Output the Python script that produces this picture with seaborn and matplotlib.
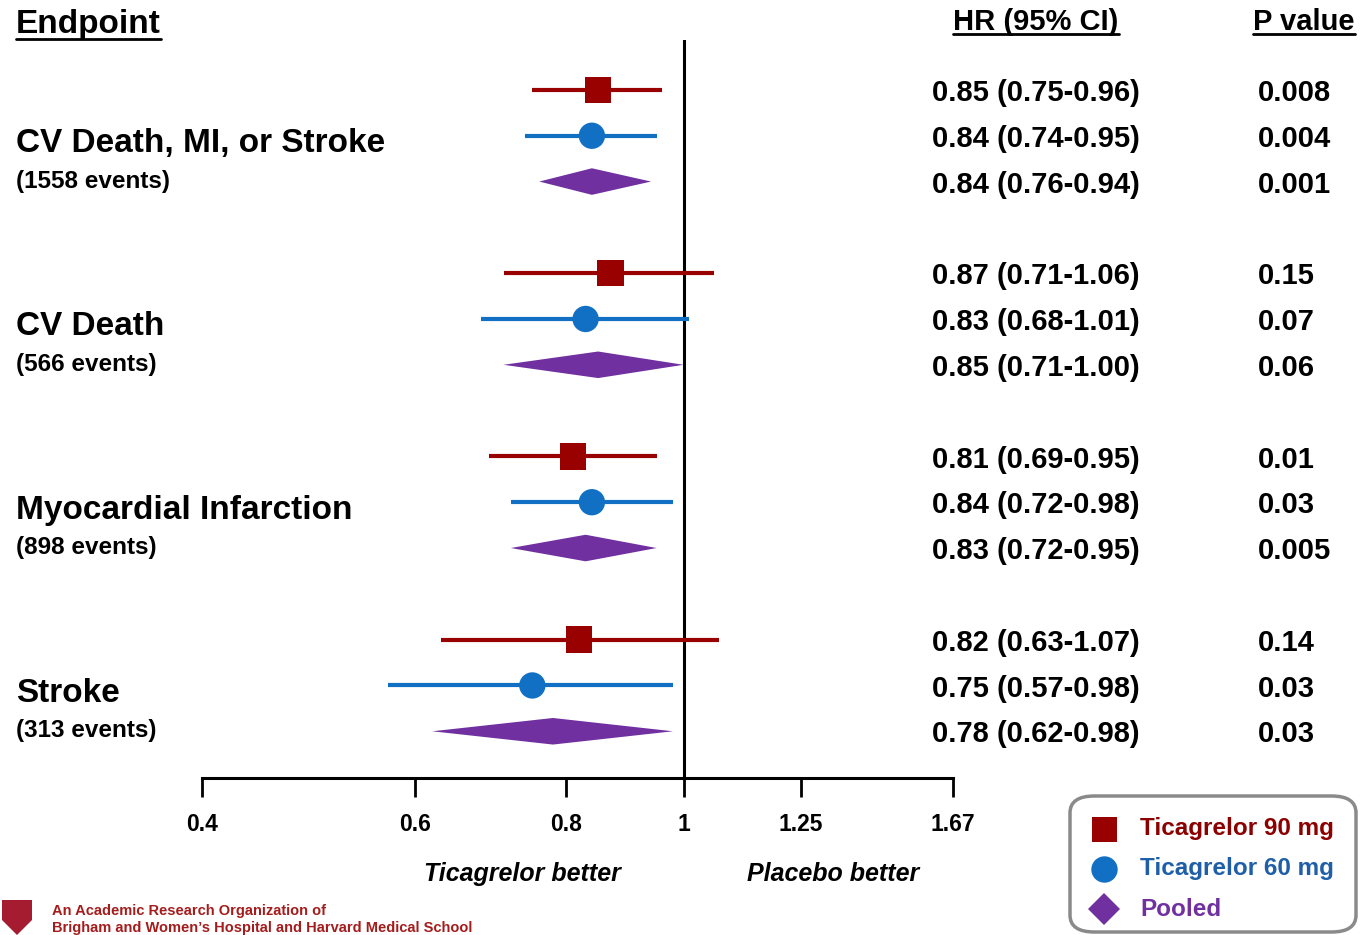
import numpy as np
import pandas as pd
import matplotlib
matplotlib.use("Agg")
import matplotlib.pyplot as plt
import matplotlib.transforms as mtransforms
from matplotlib.patches import FancyBboxPatch, Polygon
from matplotlib.lines import Line2D
from matplotlib.ticker import NullLocator
import seaborn as sns

# =========================
# Data
# =========================
endpoints = ["CV Death, MI, or Stroke", "CV Death", "Myocardial Infarction", "Stroke"]
events = ["(1558 events)", "(566 events)", "(898 events)", "(313 events)"]

arms = ["Ticagrelor 90 mg", "Ticagrelor 60 mg", "Pooled"]

hr_90 = [0.85, 0.87, 0.81, 0.82]
lo_90 = [0.75, 0.71, 0.69, 0.63]
hi_90 = [0.96, 1.06, 0.95, 1.07]
p_90 = ["0.008", "0.15", "0.01", "0.14"]

hr_60 = [0.84, 0.83, 0.84, 0.75]
lo_60 = [0.74, 0.68, 0.72, 0.57]
hi_60 = [0.95, 1.01, 0.98, 0.98]
p_60 = ["0.004", "0.07", "0.03", "0.03"]

hr_pool = [0.84, 0.85, 0.83, 0.78]
lo_pool = [0.76, 0.71, 0.72, 0.62]
hi_pool = [0.94, 1.00, 0.95, 0.98]
p_pool = ["0.001", "0.06", "0.005", "0.03"]

tick_values = [0.4, 0.6, 0.8, 1, 1.25, 1.67]
tick_labels = ["0.4", "0.6", "0.8", "1", "1.25", "1.67"]

colors = {"Ticagrelor 90 mg": "#990000", "Ticagrelor 60 mg": "#1170C4", "Pooled": "#7030A0"}
legend_text_colors = {"Ticagrelor 90 mg": "#8B0000", "Ticagrelor 60 mg": "#1F5FA8", "Pooled": "#7030A0"}

# long table: one row per endpoint x arm
rows = []
series = [(hr_90, lo_90, hi_90, p_90), (hr_60, lo_60, hi_60, p_60), (hr_pool, lo_pool, hi_pool, p_pool)]
for g, name in enumerate(endpoints):
    for k, arm in enumerate(arms):
        hr, lo, hi, p = series[k]
        rows.append({"endpoint": name, "arm": arm, "hr": hr[g], "lo": lo[g], "hi": hi[g],
                     "p": p[g], "y": g * 4 + k})
df = pd.DataFrame(rows)

# =========================
# Figure
# =========================
sns.set_theme(style="white")
plt.rcParams["font.family"] = ["Liberation Sans", "DejaVu Sans"]
plt.rcParams["font.weight"] = "bold"
plt.rcParams["text.color"] = "black"
plt.rcParams["xtick.color"] = "black"

W, H = 1360, 935
fig = plt.figure(figsize=(W / 100, H / 100), dpi=100)
fx = lambda px: px / W
fy = lambda py: 1 - py / H

ax = fig.add_axes([fx(202), fy(778), fx(953) - fx(202), (778 - 40) / H])
ax.set_xscale("log")
ax.set_xlim(0.4, 1.67)
ax.set_ylim(15.02, -1.09)

ax.axvline(1, color="black", lw=2.2, zorder=1)

# CI lines
bars = df[df["arm"] != "Pooled"]
for _, r in bars.iterrows():
    ax.hlines(r["y"], r["lo"], r["hi"], color=colors[r["arm"]], lw=3, zorder=2)

sns.scatterplot(data=bars, x="hr", y="y", hue="arm", style="arm",
                markers={"Ticagrelor 90 mg": "s", "Ticagrelor 60 mg": "o"},
                palette=colors, s=360, linewidth=0, legend=False, zorder=3, ax=ax)

# pooled diamonds
for _, r in df[df["arm"] == "Pooled"].iterrows():
    h = 0.29
    diamond = Polygon([(r["lo"], r["y"]), (r["hr"], r["y"] - h), (r["hi"], r["y"]), (r["hr"], r["y"] + h)],
                      closed=True, facecolor=colors["Pooled"], edgecolor="none", zorder=3)
    ax.add_patch(diamond)

ax.set_xticks(tick_values)
ax.set_xticklabels(tick_labels)
ax.xaxis.set_minor_locator(NullLocator())
ax.set_yticks([])
ax.set_xlabel("")
ax.set_ylabel("")
ax.tick_params(axis="x", direction="out", length=14, width=2, pad=11, labelsize=16.5,
               colors="black", bottom=True)
for s in ["top", "left", "right"]:
    ax.spines[s].set_visible(False)
ax.spines["bottom"].set_color("black")
ax.spines["bottom"].set_linewidth(2.2)
for lab in ax.get_xticklabels():
    lab.set_fontweight("bold")

# =========================
# Text columns
# =========================
tr = mtransforms.blended_transform_factory(fig.transFigure, ax.transData)
for _, r in df.iterrows():
    ax.text(fx(932), r["y"] + 0.07, f"{r['hr']:.2f} ({r['lo']:.2f}-{r['hi']:.2f})", transform=tr,
            ha="left", va="center", fontsize=21, fontweight="bold", color="black")
    ax.text(fx(1258), r["y"] + 0.07, r["p"], transform=tr,
            ha="left", va="center", fontsize=21, fontweight="bold", color="black")

for g, name in enumerate(endpoints):
    ax.text(fx(16), g * 4 + 1.17, name, transform=tr, ha="left", va="center",
            fontsize=24, fontweight="bold", color="black")
    ax.text(fx(16), g * 4 + 1.99, events[g], transform=tr, ha="left", va="center",
            fontsize=17.5, fontweight="bold", color="black")

headers = [
    fig.text(fx(16), fy(25), "Endpoint", ha="left", va="center", fontsize=24, fontweight="bold"),
    fig.text(fx(1036), fy(22), "HR (95% CI)", ha="center", va="center", fontsize=21, fontweight="bold"),
    fig.text(fx(1304), fy(22), "P value", ha="center", va="center", fontsize=21, fontweight="bold"),
]

fig.text(fx(522), fy(874), "Ticagrelor better", ha="center", va="center",
         fontsize=18, fontweight="bold", style="italic")
fig.text(fx(833), fy(874), "Placebo better", ha="center", va="center",
         fontsize=18, fontweight="bold", style="italic")

# =========================
# Legend
# =========================
box = FancyBboxPatch((fx(1070), fy(932)), fx(1356) - fx(1070), (932 - 796) / H,
                     boxstyle="round,pad=0,rounding_size=0.018", transform=fig.transFigure,
                     facecolor="white", edgecolor="#8A8A8A", lw=2.5)
fig.add_artist(box)
leg_markers = ["s", "o", "D"]
leg_sizes = [18, 19, 16]
for i, arm in enumerate(arms):
    yy = fy(829 + 40 * i)
    fig.add_artist(Line2D([fx(1104)], [yy], marker=leg_markers[i], markersize=leg_sizes[i],
                          color=colors[arm], markeredgewidth=0, transform=fig.transFigure))
    fig.text(fx(1140), yy, arm, ha="left", va="center", fontsize=17.5, fontweight="bold",
             color=legend_text_colors[arm])

# =========================
# Footer
# =========================
shield = Polygon([(fx(2), fy(900)), (fx(32), fy(900)), (fx(32), fy(920)), (fx(17), fy(935)),
                  (fx(2), fy(920))], closed=True, transform=fig.transFigure,
                 facecolor="#A51C30", edgecolor="none")
fig.add_artist(shield)
fig.text(fx(52), fy(911), "An Academic Research Organization of", ha="left", va="center",
         fontsize=10.5, fontweight="bold", color="#A51C1C")
fig.text(fx(52), fy(928), "Brigham and Women\u2019s Hospital and Harvard Medical School", ha="left",
         va="center", fontsize=10.5, fontweight="bold", color="#A51C1C")

# underline headers
fig.canvas.draw()
renderer = fig.canvas.get_renderer()
inv = fig.transFigure.inverted()
for t in headers:
    bb = t.get_window_extent(renderer)
    (x0, y0), (x1, y1) = inv.transform([(bb.x0, bb.y0), (bb.x1, bb.y1)])
    fig.add_artist(Line2D([x0, x1], [y0 + 0.002, y0 + 0.002], color="black", lw=2,
                          transform=fig.transFigure))

fig.savefig("out.png", dpi=100)
